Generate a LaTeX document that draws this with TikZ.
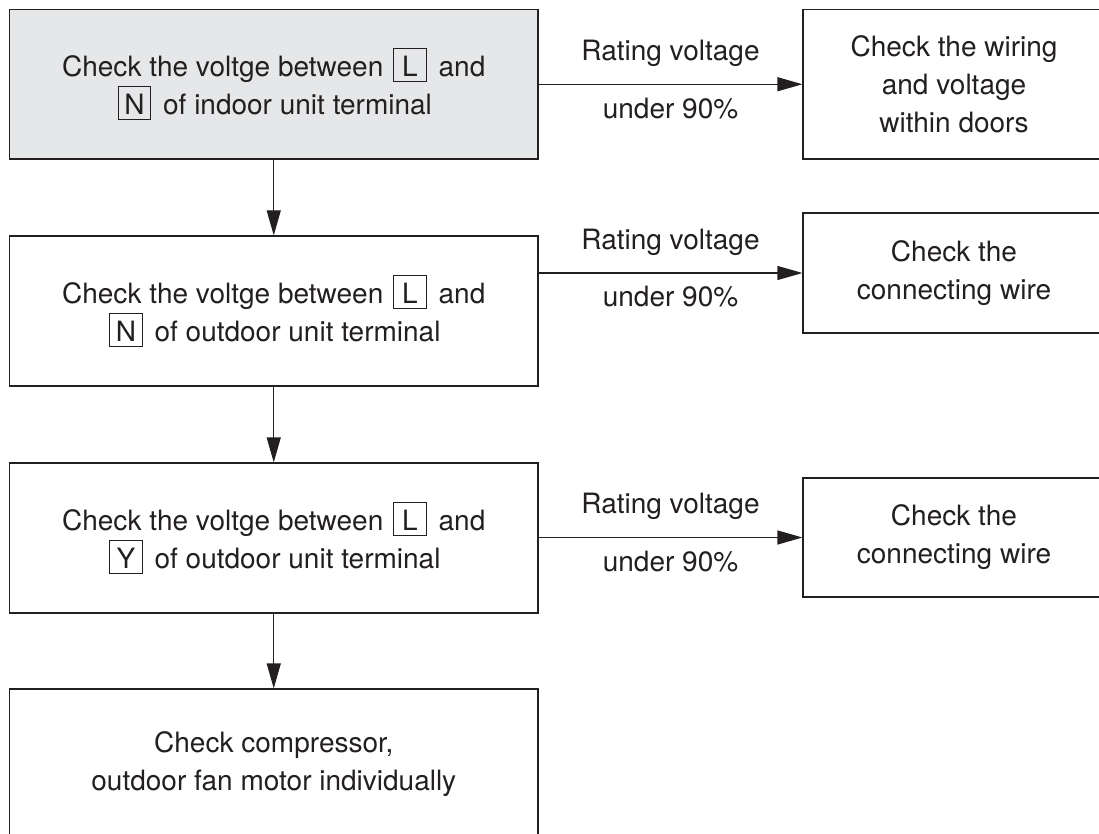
\documentclass[tikz,border=0pt]{standalone}
\usepackage{fontspec}
\setmainfont{TeX Gyre Heros}
\usetikzlibrary{arrows.meta,calc}
\definecolor{ink}{HTML}{231F20}
\definecolor{boxgray}{HTML}{E6E7E8}
\newcommand\termbox[1]{\hspace{2pt}{\setlength{\fboxsep}{0pt}\setlength{\fboxrule}{0.9pt}\fbox{\makebox[32pt]{\rule[-5pt]{0pt}{32pt}#1}}}\hspace{4pt}}
\tikzset{
  mainbox/.style={draw=ink, line width=1.2pt, minimum width=528.5pt, minimum height=150pt,
    align=center, font=\fontsize{28}{38}\selectfont, text=ink, inner sep=0pt},
  sidebox/.style={draw=ink, line width=1.2pt, minimum width=302pt,
    align=center, font=\fontsize{28}{38}\selectfont, text=ink, inner sep=0pt},
  arr/.style={draw=ink, line width=1.2pt, -{Triangle[length=25pt,width=14pt]}},
  lbl/.style={font=\fontsize{28}{34}\selectfont, text=ink, inner sep=0pt}
}
\begin{document}
\begin{tikzpicture}[x=1pt,y=-1pt]
\useasboundingbox (0,0) rectangle (1099,834);
\fill[white] (0,0) rectangle (1099,834);
\clip (0,0) rectangle (1099,834);
% main column
\node[mainbox, fill=boxgray, minimum height=149.5pt] (b1) at (273.75,84.25)
  {Check the voltge between \termbox{L} and\\ \termbox{N} of indoor unit terminal};
\node[mainbox] (b2) at (273.75,311)
  {Check the voltge between \termbox{L} and\\ \termbox{N} of outdoor unit terminal};
\node[mainbox] (b3) at (273.75,538)
  {Check the voltge between \termbox{L} and\\ \termbox{Y} of outdoor unit terminal};
\node[mainbox] (b4) at (273.75,764)
  {Check compressor,\\ outdoor fan motor individually};
% side boxes
\node[sidebox, minimum height=149.5pt] (r1) at (954,84.25)
  {Check the wiring\\ and voltage\\ within doors};
\node[sidebox, minimum height=120pt] (r2) at (954,273)
  {Check the\\ connecting wire};
\node[sidebox, minimum height=119pt] (r3) at (954,537.5)
  {Check the\\ connecting wire};
% vertical arrows
\draw[arr] (b1.south) -- (b2.north);
\draw[arr] (b2.south) -- (b3.north);
\draw[arr] (b3.south) -- (b4.north);
% horizontal arrows with labels
\draw[arr] (b1.east |- r1.west) -- (r1.west)
  node[lbl, pos=0.5, yshift=31pt] {Rating voltage}
  node[lbl, pos=0.5, yshift=-24pt] {under 90\%};
\draw[arr] (b2.east |- r2.west) -- (r2.west)
  node[lbl, pos=0.5, yshift=31pt] {Rating voltage}
  node[lbl, pos=0.5, yshift=-24pt] {under 90\%};
\draw[arr] (b3.east |- r3.west) -- (r3.west)
  node[lbl, pos=0.5, yshift=31pt] {Rating voltage}
  node[lbl, pos=0.5, yshift=-24pt] {under 90\%};
\end{tikzpicture}
\end{document}
